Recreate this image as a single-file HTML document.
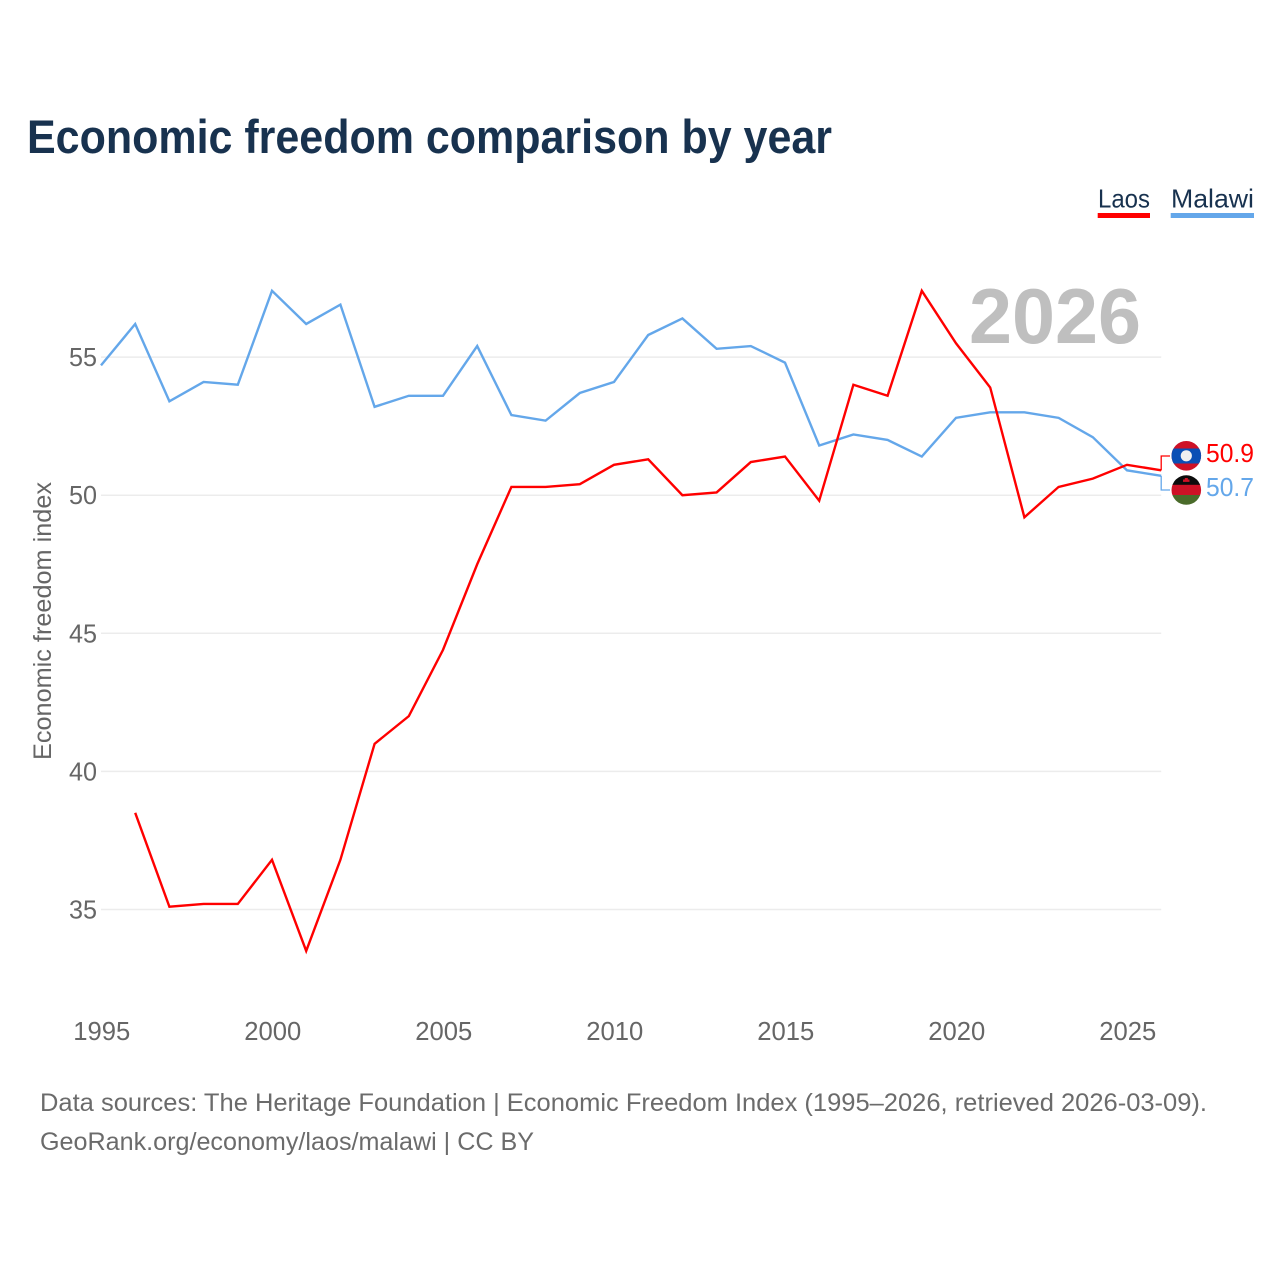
<!DOCTYPE html>
<html lang="en">
<head>
<meta charset="utf-8">
<title>Economic freedom comparison by year</title>
<style>
html,body{margin:0;padding:0;background:#fff;width:1280px;height:1280px;overflow:hidden}
svg{display:block}
text{font-family:"Liberation Sans",sans-serif}
</style>
</head>
<body>
<svg id="chart" xmlns="http://www.w3.org/2000/svg" width="1280" height="1280" viewBox="0 0 1280 1280">
  <rect width="1280" height="1280" fill="#fff"/>
  <text x="27" y="153" font-size="47" font-weight="700" fill="#18324f" textLength="805" lengthAdjust="spacingAndGlyphs">Economic freedom comparison by year</text>

  <g id="grid"></g>
  <text x="1141" y="343" text-anchor="end" font-size="78" font-weight="700" fill="#bfbfbf" textLength="172" lengthAdjust="spacingAndGlyphs">2026</text>
  <g id="yTicks"></g>
  <g id="xTicks"></g>
  <text transform="translate(51,621) rotate(-90)" text-anchor="middle" font-size="25" fill="#666" textLength="278" lengthAdjust="spacingAndGlyphs">Economic freedom index</text>

  <g id="series"></g>

  <g>
    <text x="1098" y="207.5" font-size="26" fill="#18324f" textLength="52" lengthAdjust="spacingAndGlyphs">Laos</text>
    <rect x="1097.7" y="213" width="52.3" height="5" fill="#ff0000"/>
  </g>
  <g>
    <text x="1171" y="207.5" font-size="26" fill="#18324f" textLength="83" lengthAdjust="spacingAndGlyphs">Malawi</text>
    <rect x="1170.7" y="213" width="83.3" height="5" fill="#64a7ea"/>
  </g>

  <defs>
    <clipPath id="clipLaos"><circle cx="1186.3" cy="455.8" r="14.8"/></clipPath>
    <clipPath id="clipMalawi"><circle cx="1186.3" cy="490" r="14.8"/></clipPath>
  </defs>
  <g clip-path="url(#clipLaos)">
    <rect x="1171" y="441" width="31" height="30" fill="#ce1126"/>
    <rect x="1171" y="448.5" width="31" height="15" fill="#0a4fb5"/>
    <circle cx="1186.3" cy="455.8" r="5.6" fill="#f0f0f0"/>
  </g>
  <g clip-path="url(#clipMalawi)">
    <rect x="1171" y="475" width="31" height="10" fill="#0c0c0c"/>
    <rect x="1171" y="484.8" width="31" height="10.4" fill="#ce1126"/>
    <rect x="1171" y="495" width="31" height="10" fill="#4a6b2a"/>
    <rect x="1183" y="479.5" width="6.5" height="2.4" fill="#ce1126"/>
    <rect x="1184.8" y="478" width="3" height="2" fill="#ce1126"/>
  </g>
  <text x="1206" y="462" font-size="26" fill="#ff0000" textLength="48" lengthAdjust="spacingAndGlyphs">50.9</text>
  <text x="1206" y="496" font-size="26" fill="#64a7ea" textLength="48" lengthAdjust="spacingAndGlyphs">50.7</text>

  <text x="40" y="1111" font-size="25" fill="#6b6b6b" textLength="1167" lengthAdjust="spacingAndGlyphs">Data sources: The Heritage Foundation | Economic Freedom Index (1995–2026, retrieved 2026-03-09).</text>
  <text x="40" y="1150" font-size="25" fill="#6b6b6b" textLength="494" lengthAdjust="spacingAndGlyphs">GeoRank.org/economy/laos/malawi | CC BY</text>
</svg>
<script>
const years = [1995,1996,1997,1998,1999,2000,2001,2002,2003,2004,2005,2006,2007,2008,2009,2010,2011,2012,2013,2014,2015,2016,2017,2018,2019,2020,2021,2022,2023,2024,2025,2026];
const laosValues = [null,38.5,35.1,35.2,35.2,36.8,33.5,36.8,41.0,42.0,44.4,47.5,50.3,50.3,50.4,51.1,51.3,50.0,50.1,51.2,51.4,49.8,54.0,53.6,57.4,55.5,53.9,49.2,50.3,50.6,51.1,50.9];
const malawiValues = [54.7,56.2,53.4,54.1,54.0,57.4,56.2,56.9,53.2,53.6,53.6,55.4,52.9,52.7,53.7,54.1,55.8,56.4,55.3,55.4,54.8,51.8,52.2,52.0,51.4,52.8,53.0,53.0,52.8,52.1,50.9,50.7];
const yTickValues = [35,40,45,50,55];
const xTickValues = [1995,2000,2005,2010,2015,2020,2025];

const NS = 'http://www.w3.org/2000/svg';
const xScale = function (year) { return 101 + (year - 1995) * (1161.2 - 101) / 31; };
const yScale = function (value) { return 495.2 - (value - 50) * 27.62; };

const gridGroup = document.getElementById('grid');
const yTickGroup = document.getElementById('yTicks');
const xTickGroup = document.getElementById('xTicks');
const seriesGroup = document.getElementById('series');

yTickValues.forEach(function (v) {
  const line = document.createElementNS(NS, 'line');
  line.setAttribute('x1', 101);
  line.setAttribute('x2', 1161.2);
  line.setAttribute('y1', yScale(v));
  line.setAttribute('y2', yScale(v));
  line.setAttribute('stroke', '#ececec');
  line.setAttribute('stroke-width', '1.5');
  
  
  gridGroup.appendChild(line);

  const label = document.createElementNS(NS, 'text');
  label.setAttribute('x', 97);
  label.setAttribute('y', yScale(v) + 9);
  label.setAttribute('text-anchor', 'end');
  label.setAttribute('font-size', '26');
  label.setAttribute('fill', '#666');
  label.setAttribute('textLength', '28');
  label.setAttribute('lengthAdjust', 'spacingAndGlyphs');
  
  
  label.textContent = String(v);
  yTickGroup.appendChild(label);
});

xTickValues.forEach(function (y) {
  const label = document.createElementNS(NS, 'text');
  label.setAttribute('x', xScale(y) + 0.8);
  label.setAttribute('y', 1040);
  label.setAttribute('text-anchor', 'middle');
  label.setAttribute('font-size', '26');
  label.setAttribute('fill', '#666');
  label.setAttribute('textLength', '57');
  label.setAttribute('lengthAdjust', 'spacingAndGlyphs');
  
  
  label.textContent = String(y);
  xTickGroup.appendChild(label);
});

function linePath(values) {
  let d = '';
  values.forEach(function (v, i) {
    if (v === null) return;
    d += (d ? 'L' : 'M') + xScale(years[i]).toFixed(2) + ' ' + yScale(v).toFixed(2);
  });
  return d;
}

function connectorPath(values, labelY) {
  const last = values[values.length - 1];
  const x = xScale(years[years.length - 1]);
  return 'M' + x.toFixed(2) + ' ' + yScale(last).toFixed(2) + 'V' + labelY + 'H1170';
}

const malawiLine = document.createElementNS(NS, 'path');
malawiLine.setAttribute('d', linePath(malawiValues));
malawiLine.setAttribute('fill', 'none');
malawiLine.setAttribute('stroke', '#64a7ea');
malawiLine.setAttribute('stroke-width', '2.4');
malawiLine.setAttribute('stroke-linejoin', 'miter');


seriesGroup.appendChild(malawiLine);

const laosLine = document.createElementNS(NS, 'path');
laosLine.setAttribute('d', linePath(laosValues));
laosLine.setAttribute('fill', 'none');
laosLine.setAttribute('stroke', '#ff0000');
laosLine.setAttribute('stroke-width', '2.4');
laosLine.setAttribute('stroke-linejoin', 'miter');


seriesGroup.appendChild(laosLine);

const laosConnector = document.createElementNS(NS, 'path');
laosConnector.setAttribute('d', connectorPath(laosValues, 456));
laosConnector.setAttribute('fill', 'none');
laosConnector.setAttribute('stroke', '#ff0000');
laosConnector.setAttribute('stroke-width', '1.3');


seriesGroup.appendChild(laosConnector);

const malawiConnector = document.createElementNS(NS, 'path');
malawiConnector.setAttribute('d', connectorPath(malawiValues, 490));
malawiConnector.setAttribute('fill', 'none');
malawiConnector.setAttribute('stroke', '#64a7ea');
malawiConnector.setAttribute('stroke-width', '1.3');


seriesGroup.appendChild(malawiConnector);
</script>
</body>
</html>
